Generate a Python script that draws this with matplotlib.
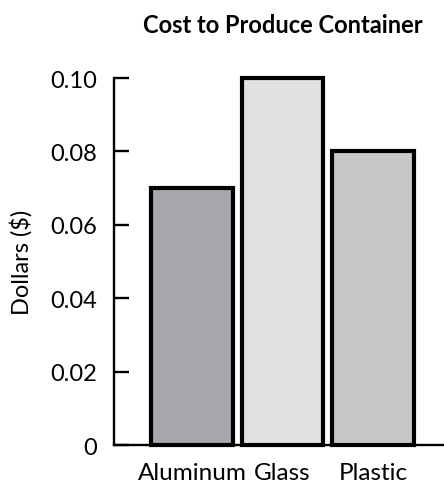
import matplotlib.pyplot as plt

# Cost to produce a container, by material
materials = ["Aluminum", "Glass", "Plastic"]
cost = [0.07, 0.10, 0.08]
bar_colors = ["#a7a8ab", "#e0e1e3", "#c6c7c9"]
yticks = [0, 0.02, 0.04, 0.06, 0.08, 0.10]
ytick_labels = ["0", "0.02", "0.04", "0.06", "0.08", "0.10"]

plt.rcParams['font.family'] = ['Lato', 'DejaVu Sans']

fig = plt.figure(figsize=(4.44, 4.85), dpi=100)
ax = fig.add_axes([0.2568, 0.0804, 0.7432, 0.7567])

ax.bar(range(len(materials)), cost, width=0.906, color=bar_colors,
       edgecolor="black", linewidth=3, clip_on=False, zorder=3)

ax.set_xlim(-0.862, 2.785)
ax.set_ylim(0, 0.10)
ax.set_yticks(yticks)
ax.set_yticklabels(ytick_labels)
ax.set_xticks(range(len(materials)))
ax.set_xticklabels(materials)

ax.tick_params(axis="y", direction="in", length=11, width=1.7, pad=12, labelsize=17)
ax.tick_params(axis="x", length=0, pad=12, labelsize=17.5)

for s in ["top", "right"]:
    ax.spines[s].set_visible(False)
for s in ["left", "bottom"]:
    ax.spines[s].set_linewidth(1.7)

ax.set_ylabel("Dollars ($)", fontsize=17, labelpad=13)
fig.text(0.636, 0.947, "Cost to Produce Container", ha="center", va="center",
         fontsize=17, fontweight="bold")

fig.savefig("out.png", dpi=100)
